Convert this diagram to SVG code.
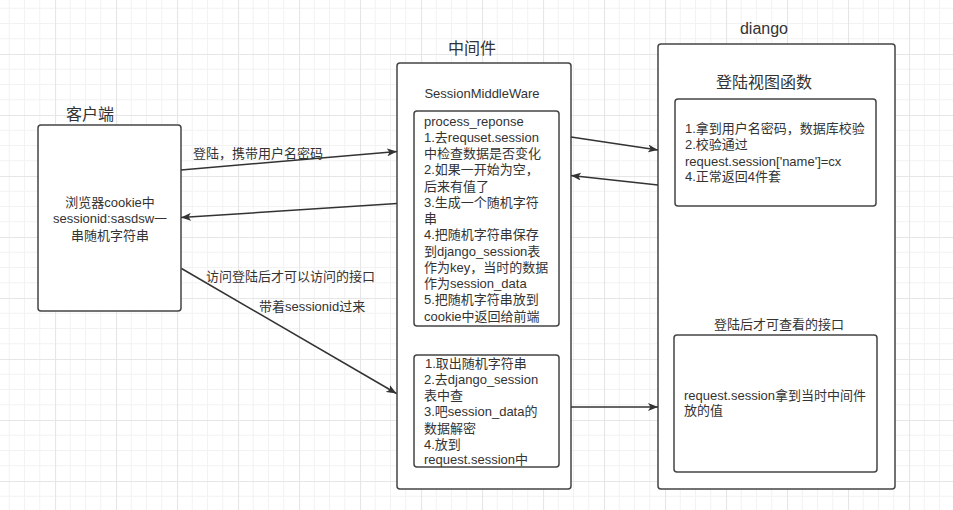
<svg xmlns="http://www.w3.org/2000/svg" width="953" height="510" viewBox="0 0 953 510">
<defs>
<pattern id="grid" x="55" y="54" width="61" height="61" patternUnits="userSpaceOnUse">
<path d="M15.25,0 V61 M30.5,0 V61 M45.75,0 V61 M0,15.25 H61 M0,30.5 H61 M0,45.75 H61" stroke="#f2f2f2" stroke-width="1" fill="none"/>
<path d="M0.5,0 V61 M0,0.5 H61" stroke="#e6e6e6" stroke-width="1.2" fill="none"/>
</pattern>
<marker id="arr" markerWidth="11" markerHeight="8" refX="10" refY="4" orient="auto" markerUnits="userSpaceOnUse">
<path d="M0,0 L10,4 L0,8 L2.5,4 z" fill="#333"/>
</marker>
</defs>
<style>
.box{fill:#fff;stroke:#444;stroke-width:1.5}
.t{font-family:"Liberation Sans","Noto Sans CJK SC",sans-serif;font-size:13px;fill:#333}
.h{font-family:"Liberation Sans","Noto Sans CJK SC",sans-serif;font-size:16px;fill:#333}
.c{text-anchor:middle}
.ln{stroke:#333;stroke-width:1.5;fill:none;marker-end:url(#arr)}
</style>
<rect width="953" height="510" fill="#fff"/>
<rect width="953" height="510" fill="url(#grid)"/>

<g id="client">
<text class="h c" x="90" y="119.5">客户端</text>
<rect class="box" x="38" y="125" width="143" height="186" rx="3"/>
<text class="t c" x="110" y="206.5">浏览器cookie中</text>
<text class="t c" x="110" y="223">sessionid:sasdsw一</text>
<text class="t c" x="110" y="239.5">串随机字符串</text>
</g>

<g id="middleware">
<text class="h c" x="472" y="53.5">中间件</text>
<rect class="box" x="397" y="63" width="174" height="426" rx="3"/>
<text class="t c" x="482" y="97.5">SessionMiddleWare</text>
</g>

<g id="process-response">
<rect class="box" x="414" y="111" width="145" height="215" rx="3"/>
<text class="t" x="424" y="125.5">process_reponse</text>
<text class="t" x="424" y="141.75">1.去requset.session</text>
<text class="t" x="424" y="158">中检查数据是否变化</text>
<text class="t" x="424" y="174.25">2.如果一开始为空，</text>
<text class="t" x="424" y="190.5">后来有值了</text>
<text class="t" x="424" y="206.75">3.生成一个随机字符</text>
<text class="t" x="424" y="223">串</text>
<text class="t" x="424" y="239.25">4.把随机字符串保存</text>
<text class="t" x="424" y="255.5">到django_session表</text>
<text class="t" x="424" y="271.75">作为key，当时的数据</text>
<text class="t" x="424" y="288">作为session_data</text>
<text class="t" x="424" y="304.25">5.把随机字符串放到</text>
<text class="t" x="424" y="320.5">cookie中返回给前端</text>
</g>

<g id="process-request">
<rect class="box" x="414" y="355" width="145" height="112" rx="3"/>
<text class="t" x="425" y="367.5">1.取出随机字符串</text>
<text class="t" x="424" y="383.75">2.去django_session</text>
<text class="t" x="424" y="400">表中查</text>
<text class="t" x="424" y="416.25">3.吧session_data的</text>
<text class="t" x="424" y="432.5">数据解密</text>
<text class="t" x="424" y="448.75">4.放到</text>
<text class="t" x="424" y="464">request.session中</text>
</g>

<g id="django">
<text class="h c" x="764" y="34">diango</text>
<rect class="box" x="658" y="44" width="237" height="445" rx="3"/>
<text class="h c" x="764" y="87.5">登陆视图函数</text>
<text class="t c" x="779" y="328.5">登陆后才可查看的接口</text>
</g>

<g id="login-view">
<rect class="box" x="675" y="99" width="201" height="107" rx="3"/>
<text class="t" x="685" y="132.5">1.拿到用户名密码，数据库校验</text>
<text class="t" x="685" y="149">2.校验通过</text>
<text class="t" x="685" y="165.5">request.session['name']=cx</text>
<text class="t" x="685" y="181">4.正常返回4件套</text>
</g>

<g id="protected-view">
<rect class="box" x="674" y="335" width="203" height="137" rx="3"/>
<text class="t" x="684" y="399.5">request.session拿到当时中间件</text>
<text class="t" x="684" y="415">放的值</text>
</g>

<g id="connectors">
<line class="ln" x1="181" y1="170" x2="397" y2="151.5"/>
<text class="t" x="193" y="157.5">登陆，携带用户名密码</text>
<line class="ln" x1="397" y1="203.5" x2="181" y2="217.5"/>
<line class="ln" x1="181.5" y1="268.5" x2="396.5" y2="393.5"/>
<text class="t" x="206" y="280.5">访问登陆后才可以访问的接口</text>
<text class="t" x="259" y="310.5">带着sessionid过来</text>
<line class="ln" x1="571" y1="137" x2="658" y2="150"/>
<line class="ln" x1="658" y1="185" x2="571" y2="175.5"/>
<line class="ln" x1="571" y1="407" x2="658" y2="407"/>
</g>
</svg>
